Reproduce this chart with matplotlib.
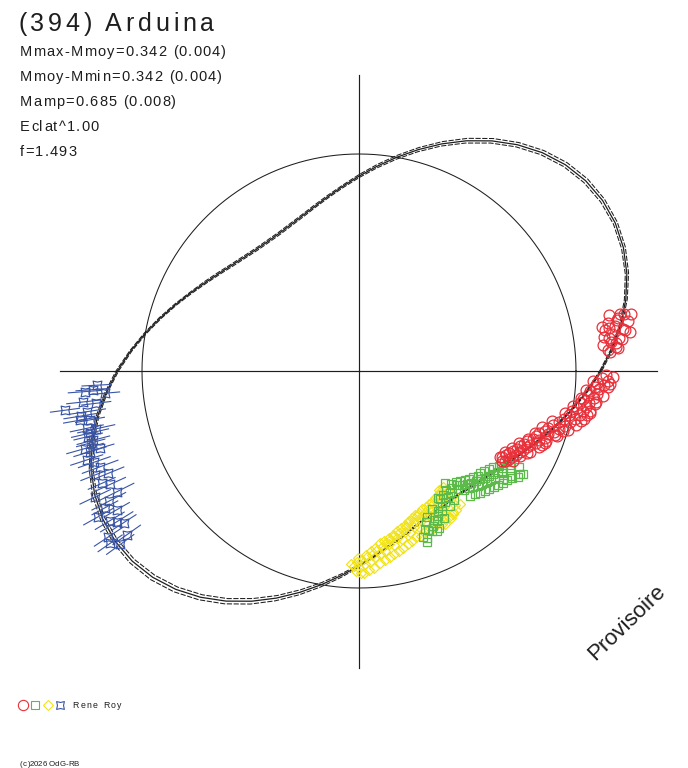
import numpy as np
import matplotlib
matplotlib.use("Agg")
import matplotlib.pyplot as plt
from matplotlib.path import Path
from matplotlib.transforms import Affine2D
from matplotlib.markers import MarkerStyle
from matplotlib.font_manager import FontProperties

# ---------------- data (phase angle in degrees, relative flux; 1 = mean level) -------------
title = "(394) Arduina"
info_lines = ["Mmax-Mmoy=0.342 (0.004)", "Mmoy-Mmin=0.342 (0.004)",
              "Mamp=0.685 (0.008)", "Eclat^1.00", "f=1.493"]
observer = "Rene Roy"
copyright_txt = "(c)2026 OdG-RB"
watermark = "Provisoire"

model_phase = list(range(0, 360, 5))
model_flux = [1.1137, 1.1706, 1.2245, 1.2729, 1.3136, 1.3445, 1.3637, 1.3703, 1.3637, 1.3445,
              1.3136, 1.2729, 1.2245, 1.1706, 1.1137, 1.0562, 1.0000, 0.9468, 0.8979, 0.8543,
              0.8167, 0.7856, 0.7613, 0.7438, 0.7333, 0.7298, 0.7333, 0.7438, 0.7613, 0.7856,
              0.8167, 0.8543, 0.8979, 0.9468, 1.0000, 1.0562,
              1.1137, 1.1706, 1.2245, 1.2729, 1.3136, 1.3445, 1.3637, 1.3703, 1.3637, 1.3445,
              1.3136, 1.2729, 1.2245, 1.1706, 1.1137, 1.0562, 1.0000, 0.9468, 0.8979, 0.8543,
              0.8167, 0.7856, 0.7613, 0.7438, 0.7333, 0.7298, 0.7333, 0.7438, 0.7613, 0.7856,
              0.8167, 0.8543, 0.8979, 0.9468, 1.0000, 1.0562]
model_flux_hi = [1.119, 1.176, 1.231, 1.280, 1.322, 1.354, 1.374, 1.381, 1.376, 1.357,
                 1.326, 1.285, 1.237, 1.183, 1.125, 1.066, 1.009, 0.955, 0.905, 0.860,
                 0.823, 0.792, 0.767, 0.750, 0.739, 0.736, 0.739, 0.750, 0.767, 0.792,
                 0.823, 0.859, 0.903, 0.952, 1.005, 1.061,
                 1.120, 1.177, 1.232, 1.281, 1.323, 1.355, 1.375, 1.382, 1.377, 1.359,
                 1.328, 1.287, 1.239, 1.185, 1.127, 1.068, 1.010, 0.955, 0.904, 0.858,
                 0.821, 0.790, 0.765, 0.748, 0.737, 0.734, 0.737, 0.748, 0.765, 0.790,
                 0.821, 0.858, 0.902, 0.951, 1.004, 1.060]
model_flux_lo = [1.109, 1.166, 1.219, 1.266, 1.306, 1.335, 1.354, 1.359, 1.352, 1.333,
                 1.302, 1.261, 1.213, 1.159, 1.103, 1.046, 0.991, 0.939, 0.891, 0.848,
                 0.811, 0.780, 0.755, 0.738, 0.727, 0.724, 0.727, 0.738, 0.755, 0.780,
                 0.811, 0.849, 0.893, 0.942, 0.995, 1.051,
                 1.108, 1.165, 1.218, 1.265, 1.305, 1.335, 1.353, 1.358, 1.351, 1.331,
                 1.300, 1.259, 1.211, 1.157, 1.101, 1.044, 0.990, 0.939, 0.892, 0.850,
                 0.813, 0.782, 0.757, 0.740, 0.729, 0.726, 0.729, 0.740, 0.757, 0.782,
                 0.813, 0.850, 0.894, 0.943, 0.996, 1.052]

red_phase = [12.6, 12.1, 11.5, 11.0, 10.6, 10.0, 9.5, 9.0, 8.4, 7.9, 7.2, 6.6, 6.0, 5.4, 4.9,
             4.3, 11.8, 8.8, 6.9, 5.0, 7.5, 9.8, 11.2, 12.4, 6.2, 8.1, 10.3,
             -1.0, -1.6, -2.2, -2.8, -3.3, -3.9, -4.4, -5.0, -5.5, -6.1, -6.6, -7.2, -7.8,
             -8.3, -8.9, -9.5, -10.1, -10.7, -11.3, -11.9, -12.5, -13.1, -13.7, -14.3, -14.9,
             -15.5, -16.1, -16.7, -17.3, -17.9, -18.5, -19.1, -19.7, -20.3, -20.9, -21.5,
             -22.1, -22.7, -23.3, -23.9, -24.5, -25.1, -25.7, -26.3, -26.9, -27.5, -28.1,
             -28.7, -29.3, -29.9, -30.5, -31.1, -31.7, -32.3,
             -9.8, -12.0, -14.0, -3.0, -26.0, -18.0, -22.0,
             -1.3, -2.5, -3.6, -4.7, -5.8, -6.9, -8.0, -9.2, -10.4, -11.6, -12.8, -14.6,
             -15.8, -17.0, -18.2, -19.4, -20.6, -21.8, -23.0, -24.2, -25.4, -26.6, -27.8,
             -29.0, -30.2, -31.4, -7.5, -11.0, -16.4, -21.0]
red_flux = [1.18, 1.25, 1.22, 1.17, 1.26, 1.20, 1.15, 1.23, 1.18, 1.14, 1.21, 1.17, 1.13, 1.19,
            1.15, 1.16, 1.28, 1.24, 1.22, 1.20, 1.16, 1.17, 1.21, 1.23, 1.19, 1.26, 1.14,
            1.14, 1.12, 1.15, 1.10, 1.13, 1.09, 1.11, 1.07, 1.10, 1.06, 1.09, 1.04, 1.07,
            1.03, 1.06, 1.02, 1.05, 1.00, 1.04, 0.99, 1.02, 0.97, 1.00, 0.95, 0.98,
            0.93, 0.96, 0.91, 0.94, 0.90, 0.92, 0.88, 0.91, 0.87, 0.89, 0.86,
            0.88, 0.84, 0.86, 0.83, 0.85, 0.82, 0.84, 0.81, 0.83, 0.80, 0.82,
            0.79, 0.81, 0.78, 0.80, 0.77, 0.79, 0.78,
            1.08, 1.06, 1.03, 1.16, 0.86, 0.95, 0.91,
            1.17, 1.08, 1.15, 1.05, 1.13, 1.03, 1.10, 1.00, 1.08, 0.97, 1.05, 0.92,
            1.00, 0.88, 0.96, 0.86, 0.92, 0.84, 0.90, 0.81, 0.87, 0.79, 0.84,
            0.77, 0.82, 0.76, 1.10, 1.07, 0.98, 0.92]

green_phase = [-31.0, -31.8, -32.5, -33.2, -33.9, -34.6, -35.3, -36.0, -36.8, -37.5, -38.2,
               -38.9, -39.6, -40.4, -41.1, -41.8, -42.5, -43.3, -44.0, -44.8, -45.5, -46.3,
               -47.0, -47.8, -48.5, -49.3, -50.0, -50.8, -51.6, -52.4, -53.2, -54.0, -54.9,
               -55.8, -56.7, -57.6, -58.5, -59.4, -60.4, -61.4, -62.4, -63.4, -64.5, -65.6,
               -66.7, -67.8, -69.0,
               -31.4, -32.1, -32.8, -33.6, -34.3, -35.0, -35.7, -36.4, -37.2, -37.9, -38.6,
               -39.3, -40.0, -40.8, -41.5, -42.2, -42.9, -43.7, -44.4, -45.2, -45.9, -46.7,
               -47.4, -48.2, -48.9, -53.6, -56.2, -58.0, -60.0, -62.0, -64.0, -66.2, -68.3,
               -67.2, -65.0, -63.0]
green_flux = [0.86, 0.82, 0.88, 0.83, 0.80, 0.85, 0.81, 0.79, 0.83, 0.78, 0.80,
              0.77, 0.79, 0.76, 0.78, 0.75, 0.77, 0.74, 0.76, 0.73, 0.75, 0.72,
              0.74, 0.71, 0.73, 0.69, 0.71, 0.67, 0.69, 0.65, 0.70, 0.68, 0.71,
              0.69, 0.72, 0.70, 0.73, 0.75, 0.74, 0.76, 0.78, 0.77, 0.79, 0.81,
              0.80, 0.83, 0.82,
              0.80, 0.89, 0.78, 0.88, 0.78, 0.86, 0.76, 0.85, 0.75, 0.84, 0.74,
              0.83, 0.73, 0.82, 0.73, 0.81, 0.72, 0.80, 0.71, 0.79, 0.70, 0.78,
              0.69, 0.77, 0.68, 0.74, 0.75, 0.69, 0.78, 0.72, 0.82, 0.76, 0.85,
              0.79, 0.74, 0.81]

yellow_phase = [-52.5, -53.5, -54.5, -55.5, -56.3, -57.1, -57.9, -58.7, -59.5, -60.3, -61.1,
                -61.9, -62.7, -63.5, -64.3, -65.1, -65.9, -66.7, -67.5, -68.3, -69.1, -69.9,
                -70.7, -71.5, -72.3, -73.1, -73.9, -74.7, -75.5, -76.3, -77.1, -77.9, -78.7,
                -79.5, -80.3, -81.1, -81.9, -82.7, -83.5, -84.3, -85.1, -85.9, -86.7, -87.5,
                -88.3, -89.1, -89.9, -90.7, -91.5, -92.3, -89.5,
                -53.0, -54.0, -55.0, -56.0, -56.8, -57.5, -58.3, -59.1, -60.0, -60.7, -61.5,
                -62.3, -63.1, -63.9, -64.7, -65.5, -66.3, -67.1, -67.9, -68.7, -69.5, -70.3,
                -71.1, -71.9, -72.7, -73.5, -74.3, -75.1, -75.9, -76.7, -77.5, -78.3, -79.1,
                -79.9, -80.7, -81.5, -82.3, -83.1, -83.9, -84.7, -85.5, -86.3, -87.1, -87.9,
                -88.7, -90.2, -91.0, -58.0, -60.8, -56.0]
yellow_flux = [0.72, 0.69, 0.76, 0.70, 0.78, 0.68, 0.74, 0.71, 0.76, 0.70, 0.74,
               0.72, 0.75, 0.71, 0.74, 0.72, 0.76, 0.73, 0.75, 0.72, 0.77, 0.74,
               0.76, 0.73, 0.78, 0.75, 0.77, 0.76, 0.80, 0.77, 0.79, 0.78, 0.82,
               0.79, 0.81, 0.80, 0.84, 0.82, 0.85, 0.83, 0.86, 0.85, 0.88, 0.86,
               0.89, 0.87, 0.91, 0.88, 0.90, 0.89, 0.93,
               0.77, 0.66, 0.78, 0.67, 0.79, 0.68, 0.79, 0.68, 0.79, 0.69, 0.80,
               0.69, 0.79, 0.70, 0.80, 0.70, 0.80, 0.71, 0.80, 0.71, 0.81, 0.72,
               0.81, 0.73, 0.82, 0.74, 0.83, 0.75, 0.84, 0.76, 0.85, 0.77, 0.86,
               0.78, 0.87, 0.79, 0.88, 0.80, 0.89, 0.82, 0.91, 0.83, 0.92, 0.85,
               0.93, 0.86, 0.92, 0.80, 0.81, 0.66]

blue_phase = [183.1, 184.3, 185.0, 186.4, 187.6, 188.5, 190.0, 190.3, 191.9, 193.0, 193.6,
              194.6, 195.8, 196.6, 196.7, 198.1, 200.3, 202.2, 203.6, 205.5, 206.5, 209.2,
              209.8, 211.9, 213.5, 214.7, 215.2, 184.0, 187.0, 189.2, 192.4, 195.0, 199.0,
              201.5, 204.5, 207.5, 211.0, 212.8, 216.0, 208.3]
blue_flux = [1.211, 1.266, 1.175, 1.278, 1.367, 1.269, 1.305, 1.260, 1.282, 1.272, 1.284,
             1.265, 1.312, 1.246, 1.294, 1.320, 1.272, 1.248, 1.294, 1.347, 1.247, 1.376,
             1.287, 1.315, 1.385, 1.395, 1.310, 1.230, 1.220, 1.300, 1.240, 1.280, 1.290,
             1.310, 1.260, 1.300, 1.340, 1.290, 1.360, 1.330]
blue_err = [0.07, 0.08, 0.07, 0.08, 0.07, 0.09, 0.08, 0.07, 0.08, 0.09, 0.07,
            0.08, 0.09, 0.07, 0.08, 0.08, 0.09, 0.08, 0.07, 0.08, 0.09, 0.08,
            0.07, 0.09, 0.08, 0.07, 0.08, 0.08, 0.07, 0.08, 0.09, 0.07, 0.08,
            0.07, 0.08, 0.09, 0.08, 0.07, 0.08, 0.07]

# ---------------- style ----------------
W, H, DPI = 688, 768, 100
CX, CY, RPX = 359, 371, 217       # centre and mean-circle radius in pixels
RMAX = 1.375
INK = "#1e1e1e"
RED, GREEN, YELLOW, BLUE = "#e8303a", "#5cba4a", "#f0e31c", "#3a55a6"
FAMILY = "Liberation Sans"

fig = plt.figure(figsize=(W / DPI, H / DPI), dpi=DPI)
fig.patch.set_facecolor("white")
half = RMAX * RPX
ax = fig.add_axes([(CX - half) / W, (H - CY - half) / H, 2 * half / W, 2 * half / H],
                  projection="polar")
ax.set_ylim(0, RMAX)
ax.set_axis_off()

# cross-hair and mean circle
for ang, length in [(0, 1.373), (90, 1.364), (180, 1.378), (270, 1.369)]:
    ax.plot([np.deg2rad(ang)] * 2, [0, length], color=INK, lw=0.85, clip_on=False, zorder=1)
circ_t = np.deg2rad(np.arange(0, 361, 1))
ax.plot(circ_t, np.ones_like(circ_t), color=INK, lw=0.75, clip_on=False, zorder=1)

# model curves
mt = np.deg2rad(np.r_[model_phase, 360])
ax.plot(mt, np.r_[model_flux, model_flux[0]], color=INK, lw=0.9, clip_on=False, zorder=2)
for arr in (model_flux_hi, model_flux_lo):
    ax.plot(mt, np.r_[arr, arr[0]], color=INK, lw=0.75, ls=(0, (5, 1.5)),
            clip_on=False, zorder=2)

# star marker for the 4th session
star = Path.unit_regular_star(4, 0.55).transformed(Affine2D().rotate_deg(45))
star_m = MarkerStyle(star)

# observations
bt = np.deg2rad(blue_phase)
bf = np.array(blue_flux)
be = np.array(blue_err)
vl = ax.vlines(bt, bf - be, bf + be, color=BLUE, lw=0.8, zorder=3)
vl.set_clip_on(False)
ax.plot(bt, bf, ls="none", marker=star_m, ms=6.3, mfc="none", mec=BLUE, mew=0.85,
        clip_on=False, zorder=4)
ax.plot(np.deg2rad(yellow_phase), yellow_flux, ls="none", marker="D", ms=5.0, mfc="none",
        mec=YELLOW, mew=0.9, clip_on=False, zorder=4)
ax.plot(np.deg2rad(green_phase), green_flux, ls="none", marker="s", ms=6.3, mfc="none",
        mec=GREEN, mew=0.9, clip_on=False, zorder=4)
ax.plot(np.deg2rad(red_phase), red_flux, ls="none", marker="o", ms=7.8, mfc="none",
        mec=RED, mew=0.9, clip_on=False, zorder=4)

# overlay in pixel coordinates for texts / legend
ov = fig.add_axes([0, 0, 1, 1])
ov.set_xlim(0, W)
ov.set_ylim(H, 0)
ov.set_axis_off()
ov.patch.set_alpha(0)

renderer = fig.canvas.get_renderer()


def spaced_text(x, y, s, size, spacing, color=INK, family=FAMILY):
    """Text with extra letter spacing: each glyph is right-aligned where it ends
    in the un-spaced string, then shifted by i * spacing."""
    fp = FontProperties(family=family, size=size)
    for i, ch in enumerate(s):
        if ch.isspace():
            continue
        w, _, _ = renderer.get_text_width_height_descent(s[:i + 1], fp, ismath=False)
        ov.text(x + w + i * spacing, y, ch, fontproperties=fp, color=color,
                ha="right", va="baseline")


spaced_text(18, 31, title, 18, 3.8)
for i, line in enumerate(info_lines):
    spaced_text(20, 56 + 25 * i, line, 10.5, 1.15)

# legend
ov.plot([22.7], [705.3], marker="o", ms=7.4, mfc="none", mec=RED, mew=0.8)
ov.plot([34.6], [705.3], marker="s", ms=5.3, mfc="none", mec=GREEN, mew=0.8)
ov.plot([47.7], [705.3], marker="D", ms=5.0, mfc="none", mec=YELLOW, mew=0.8)
ov.plot([60.0], [705.3], marker=star_m, ms=5.6, mfc="none", mec=BLUE, mew=0.8)
spaced_text(72.7, 708.3, observer, 6.3, 1.4)
spaced_text(20, 766, copyright_txt, 5.7, 0.0)

ov.text(626.5, 622.5, watermark, rotation=44, rotation_mode="anchor", ha="center",
        va="center", fontsize=16, family=FAMILY, color=INK)

fig.savefig("out.png", dpi=DPI, facecolor="white")
